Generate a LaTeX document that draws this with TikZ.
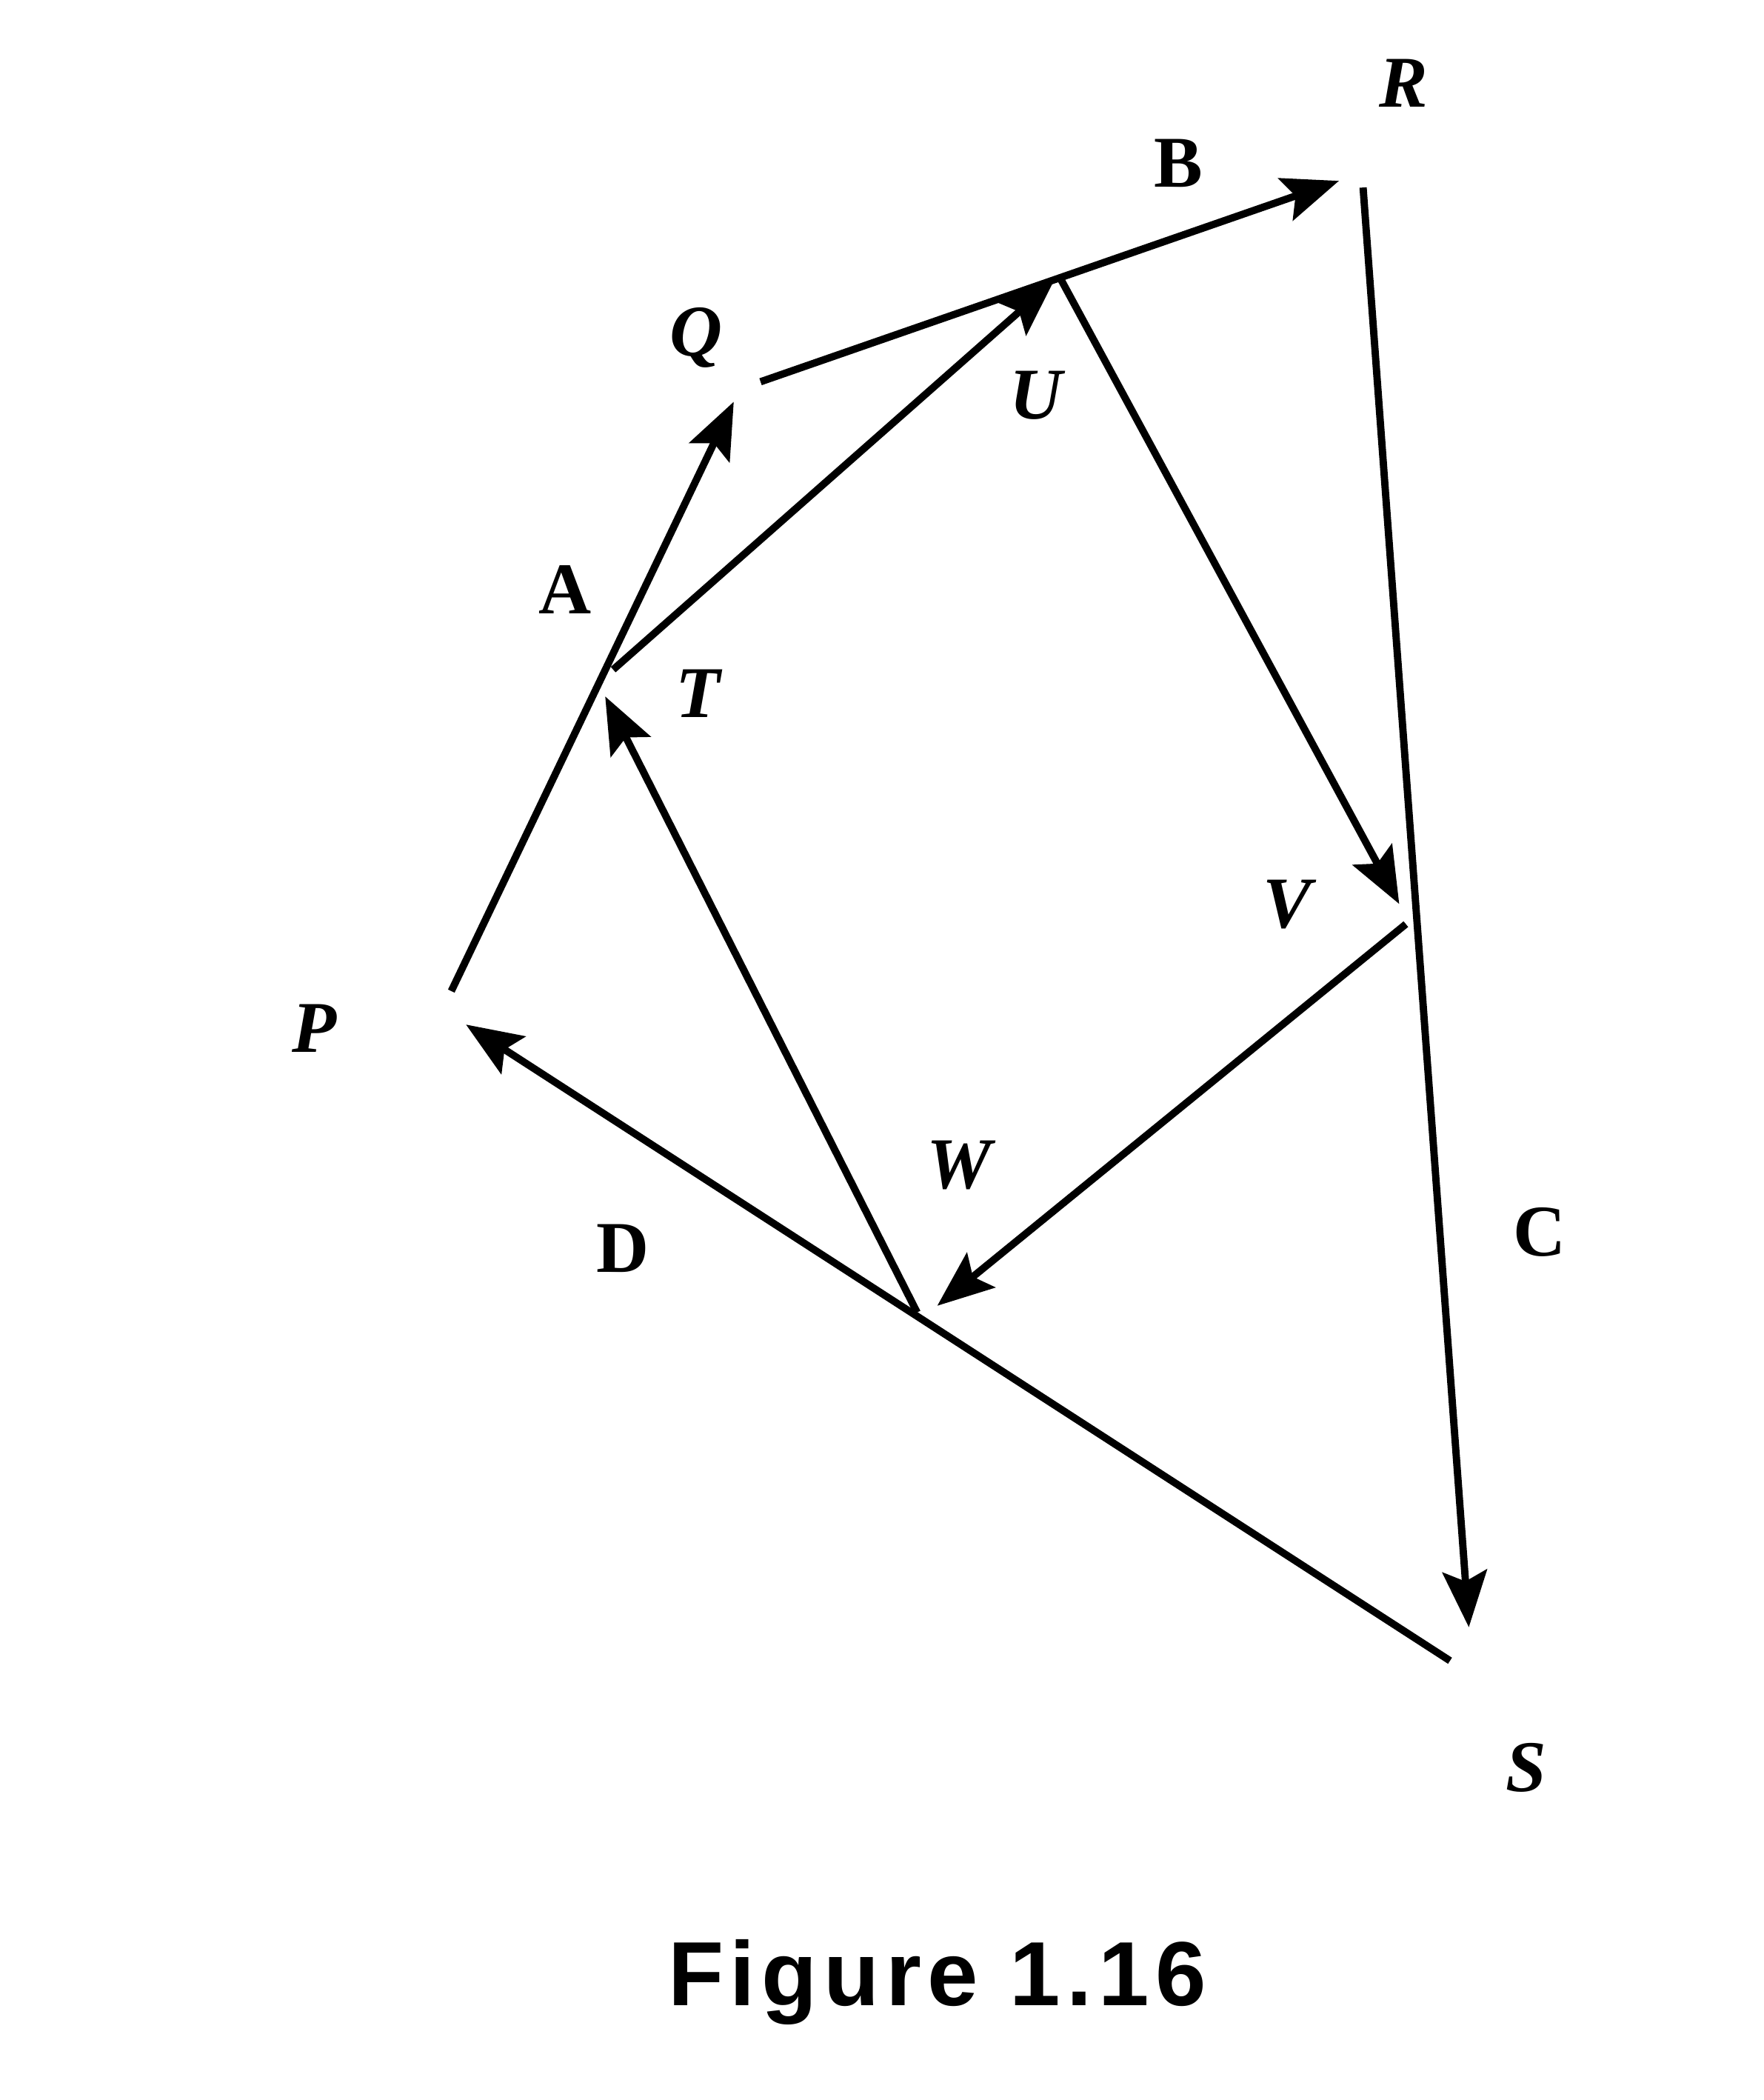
\documentclass[tikz,border=0pt]{standalone}
\usepackage{fontspec}
\setmainfont{Liberation Serif}
\newfontfamily\capfont[LetterSpace=7]{Liberation Sans}
\usepackage{tikz}
\usetikzlibrary{arrows.meta}

\begin{document}
\begin{tikzpicture}
        \useasboundingbox (0,0) rectangle (11.906,14.175);
        \tikzstyle{every node} = [rectangle, font=\fontsize{14}{16}\selectfont\bfseries]
        \tikzstyle{vec} = [line width=1.4pt, -{Stealth[length=3.8mm,width=3mm,inset=0.7mm]}]
        % ends of the vectors
        \coordinate (p0) at (3.047,7.485);
        \coordinate (q1) at (4.954,11.463);
        \coordinate (q0) at (5.135,11.598);
        \coordinate (r1) at (9.040,12.954);
        \coordinate (r0) at (9.203,12.909);
        \coordinate (s1) at (9.917,3.191);
        \coordinate (s0) at (9.790,2.965);
        \coordinate (p1) at (3.146,7.259);
        \coordinate (t0) at (4.140,9.655);
        \coordinate (u1) at (7.114,12.276);
        \coordinate (u0) at (7.160,12.294);
        \coordinate (v1) at (9.447,8.073);
        \coordinate (v0) at (9.492,7.937);
        \coordinate (w1) at (6.328,5.361);
        \coordinate (w0) at (6.192,5.316);
        \coordinate (t1) at (4.086,9.474);
        % labels
        \node (R) at (9.474,13.615) {\textit{R}};
        \node (B) at (7.955,13.072) {B};
        \node (Q) at (4.701,11.896) {\textit{Q}};
        \node (U) at (7.006,11.508) {\textit{U}};
        \node (A) at (3.815,10.197) {A};
        \node (T) at (4.719,9.492) {\textit{T}};
        \node (V) at (8.706,8.072) {\textit{V}};
        \node (P) at (2.124,7.232) {\textit{P}};
        \node (W) at (6.491,6.310) {\textit{W}};
        \node (D) at (4.204,5.750) {D};
        \node (C) at (10.396,5.859) {C};
        \node (S) at (10.306,2.242) {\textit{S}};
        \node[font=\capfont\fontsize{17.5}{19}\selectfont\bfseries] (cap) at (6.328,0.796) {Figure 1.16};
        \foreach \from/\to in {p0/q1, q0/r1, r0/s1, s0/p1, t0/u1, u0/v1, v0/w1, w0/t1}
            \draw[vec] (\from) -- (\to);
    \end{tikzpicture}
\end{document}
